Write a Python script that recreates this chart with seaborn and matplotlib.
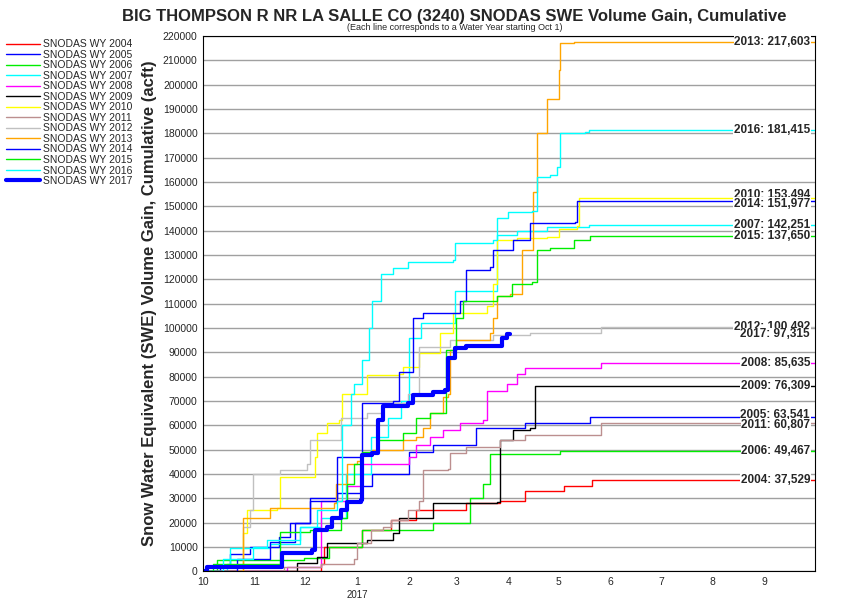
import numpy as np
import pandas as pd
import matplotlib
matplotlib.use("Agg")
import matplotlib.pyplot as plt
import seaborn as sns

# --- data: (day of water year, cumulative acft) breakpoints ---
days_2004 = [0, 68, 70, 72, 95, 112, 127, 157, 177, 192, 215, 232, 365]
vals_2004 = [0, 0, 3000, 10000, 17000, 21000, 25000, 28000, 29000, 33000, 35000, 37529, 37529]

days_2005 = [0, 10, 16, 28, 45, 52, 64, 80, 95, 101, 123, 137, 163, 192, 231, 365]
vals_2005 = [0, 2000, 7000, 10000, 14000, 20000, 30000, 32000, 35000, 40000, 49000, 52000, 59000, 61000, 63541, 63541]

days_2006 = [0, 8, 60, 75, 95, 137, 159, 167, 171, 213, 365]
vals_2006 = [0, 4500, 5500, 10000, 17000, 20000, 30000, 36000, 48000, 49467, 49467]

days_2007 = [0, 14, 16, 40, 58, 70, 85, 100, 110, 118, 123, 130, 150, 175, 187, 205, 230, 365]
vals_2007 = [0, 3000, 9500, 11000, 18000, 22000, 40000, 55000, 63000, 70000, 96000, 102000, 115000, 138000, 140000, 141500, 142251, 142251]

days_2008 = [0, 50, 70, 86, 95, 123, 127, 135, 143, 153, 167, 169, 181, 187, 192, 237, 365]
vals_2008 = [0, 1700, 29000, 35000, 44000, 47000, 52000, 55000, 58000, 61000, 62000, 74000, 77000, 81000, 83500, 85635, 85635]

days_2009 = [0, 56, 68, 74, 98, 113, 117, 137, 175, 177, 185, 195, 198, 365]
vals_2009 = [0, 3300, 5700, 11500, 12700, 15600, 22000, 28000, 28500, 54000, 58000, 59000, 76309, 76309]

days_2010 = [0, 24, 26, 44, 46, 67, 68, 74, 81, 83, 98, 117, 119, 129, 141, 149, 169, 173, 175, 187, 205, 212, 223, 224, 365]
vals_2010 = [0, 15600, 25000, 26000, 38600, 47000, 56700, 61000, 62000, 73000, 80500, 81000, 84000, 89600, 98000, 106000, 109000, 118000, 136000, 137000, 137500, 140500, 142000, 153494, 153494]

days_2011 = [0, 48, 70, 90, 92, 100, 107, 112, 122, 129, 131, 146, 147, 157, 177, 192, 237, 365]
vals_2011 = [0, 1600, 3000, 5000, 11500, 17000, 18000, 21000, 25000, 29000, 41500, 42000, 48500, 51000, 54000, 56000, 60807, 60807]

days_2012 = [0, 2, 24, 28, 30, 46, 62, 64, 82, 98, 107, 122, 129, 147, 173, 195, 237, 365]
vals_2012 = [0, 1600, 18000, 25000, 40000, 41500, 44000, 54000, 63000, 65000, 69000, 73000, 92000, 95000, 97000, 98000, 100492, 100492]

days_2013 = [0, 24, 40, 78, 79, 86, 92, 95, 101, 119, 127, 131, 135, 143, 146, 147, 151, 171, 173, 175, 183, 190, 197, 199, 205, 212, 213, 221, 365]
vals_2013 = [0, 22000, 26000, 28000, 36000, 44000, 45500, 48500, 50000, 54000, 55000, 59000, 65000, 71500, 73000, 91000, 95000, 98000, 104000, 113000, 114000, 132000, 156000, 180000, 194000, 206000, 217000, 217603, 217603]

days_2014 = [0, 20, 40, 55, 64, 80, 95, 113, 117, 125, 131, 153, 157, 171, 173, 185, 195, 222, 223, 365]
vals_2014 = [0, 5000, 12000, 20000, 29000, 47000, 69000, 70000, 82000, 104000, 106000, 111000, 124000, 125000, 132000, 136000, 143000, 143500, 151977, 151977]

days_2015 = [0, 6, 46, 64, 82, 86, 90, 95, 104, 119, 127, 135, 145, 151, 155, 175, 184, 196, 199, 207, 221, 231, 365]
vals_2015 = [0, 3000, 16000, 17000, 22000, 36000, 44000, 49000, 54000, 57000, 63000, 65000, 91000, 104000, 111000, 113000, 118000, 119000, 132000, 133000, 136000, 137650, 137650]

days_2016 = [0, 12, 30, 38, 58, 68, 80, 83, 88, 90, 95, 99, 101, 106, 113, 122, 149, 150, 173, 175, 182, 196, 199, 207, 211, 213, 228, 230, 365]
vals_2016 = [0, 5000, 10000, 13000, 18000, 25000, 29000, 60000, 73000, 77000, 87000, 100000, 111000, 122000, 124500, 127000, 128000, 135000, 136000, 145000, 147500, 148000, 162000, 163000, 166000, 180000, 180500, 181415, 181415]

days_2017 = [0, 2, 46, 47, 65, 67, 74, 77, 82, 86, 94, 95, 101, 104, 107, 122, 125, 137, 144, 146, 150, 157, 173, 178, 181, 183]
vals_2017 = [0, 1600, 1600, 7400, 8600, 17000, 18000, 22000, 25000, 28400, 29200, 47700, 48500, 62000, 68000, 69000, 72300, 73600, 74400, 87500, 91600, 92500, 92500, 95800, 97315, 97315]

years = [2004, 2005, 2006, 2007, 2008, 2009, 2010, 2011, 2012, 2013, 2014, 2015, 2016, 2017]
series_days = [days_2004, days_2005, days_2006, days_2007, days_2008, days_2009, days_2010,
               days_2011, days_2012, days_2013, days_2014, days_2015, days_2016, days_2017]
series_vals = [vals_2004, vals_2005, vals_2006, vals_2007, vals_2008, vals_2009, vals_2010,
               vals_2011, vals_2012, vals_2013, vals_2014, vals_2015, vals_2016, vals_2017]
colors = ["#ff0000", "#0000ff", "#00ee00", "#00ffff", "#ff00ff", "#000000", "#ffff00",
          "#bc8f8f", "#c0c0c0", "#ffa500", "#0000ff", "#00ee00", "#00ffff", "#0000ff"]

month_days = [0, 31, 61, 92, 123, 151, 182, 212, 243, 273, 304, 335]
month_labels = ["10", "11", "12", "1", "2", "3", "4", "5", "6", "7", "8", "9"]

# --- plot ---
sns.set_style("white")
plt.rcParams["font.family"] = ["Liberation Sans", "DejaVu Sans"]
fig = plt.figure(figsize=(8.5, 6), dpi=100)
ax = fig.add_axes([0.239, 0.048, 0.72, 0.892])

for yr, d, v, c in zip(years, series_days, series_vals, colors):
    lw = 3 if yr == 2017 else 1
    df = pd.DataFrame({"day": d, "acft": v})
    sns.lineplot(data=df, x="day", y="acft", drawstyle="steps-post", color=c, lw=lw,
                 label=f"SNODAS WY {yr}", ax=ax, legend=False, sort=False)

# end labels (white box hides lines underneath)
label_yoff = {2010: 1000, 2014: -1000, 2005: 800, 2011: -800}
for yr, v in zip(years, series_vals):
    ax.text(362, v[-1] + label_yoff.get(yr, 0), f"{yr}: {v[-1]:,}", ha="right", va="center",
            fontsize=8.5, fontweight="bold",
            bbox=dict(facecolor="white", edgecolor="none", pad=0.3))

ax.set_xlim(0, 365)
ax.set_ylim(0, 220000)
ax.set_yticks(np.arange(0, 220001, 10000))
ax.set_yticklabels([str(t) for t in range(0, 220001, 10000)], fontsize=7.5)
ax.set_xticks(month_days)
ax.set_xticklabels(month_labels, fontsize=7.5)
ax.text(92, -0.035, "2017", transform=ax.get_xaxis_transform(), ha="center", va="top", fontsize=7)
ax.tick_params(axis="both", length=3, direction="out", pad=1)
ax.yaxis.grid(True, color="#a0a0a0", lw=1)
ax.set_axisbelow(True)
for s in ax.spines.values():
    s.set_color("black")
ax.set_xlabel("")
ax.set_ylabel("Snow Water Equivalent (SWE) Volume Gain, Cumulative (acft)",
              fontsize=12, fontweight="bold", labelpad=4)

fig.text(0.535, 0.985, "BIG THOMPSON R NR LA SALLE CO (3240) SNODAS SWE Volume Gain, Cumulative",
         ha="center", va="top", fontsize=12, fontweight="bold")
fig.text(0.535, 0.962, "(Each line corresponds to a Water Year starting Oct 1)",
         ha="center", va="top", fontsize=6.5)

handles, labels = ax.get_legend_handles_labels()
fig.legend(handles, labels, loc="upper left", bbox_to_anchor=(0.0, 0.945), frameon=False,
           fontsize=7.5, handlelength=3.2, handletextpad=0.3, labelspacing=0.05, borderaxespad=0.2)

fig.savefig("out.png", dpi=100)
